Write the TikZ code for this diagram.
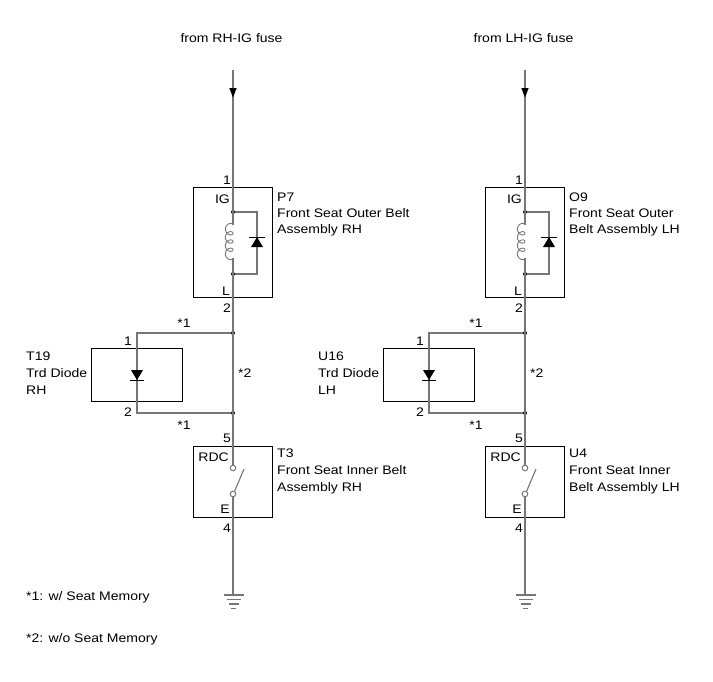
\documentclass[tikz,border=0pt]{standalone}
\usepackage{fontspec}
\setmainfont{Liberation Sans}[FakeStretch=1.13]
\definecolor{wirec}{RGB}{118,118,118}
\tikzset{
  wire/.style={draw=wirec, line width=1.1pt},
  boxc/.style={draw=black, line width=1.4pt, inner sep=0pt, anchor=north west},
  lbl/.style={inner sep=0pt, font=\fontsize{12.4}{14}\selectfont},
  pin/.style={lbl, anchor=base east},
  txt/.style={lbl, anchor=base west},
  jdot/.style={fill=black, circle, inner sep=0pt, minimum size=4pt},
  swc/.style={draw=wirec, circle, inner sep=0pt, minimum size=5.6pt, line width=1pt},
  tip/.style={fill=black},
}
\newcommand\seatcol[2]{%
\begin{scope}[xshift=#2pt]
  \coordinate (#1in) at (233,70);
  \coordinate (#1coilT) at (233,225);
  \coordinate (#1coilB) at (233,258);
  \coordinate (#1gnd) at (233,595);
  \node[jdot] (#1rT) at (233,212) {};
  \node[jdot] (#1rB) at (233,274) {};
  \node[jdot] (#1jT) at (233,333) {};
  \node[jdot] (#1jB) at (233,413) {};
  \node[swc] (#1swT) at (233,468) {};
  \node[swc] (#1swB) at (233,494) {};
  \coordinate (#1bT) at (257,212);
  \coordinate (#1bB) at (257,274);
  \coordinate (#1dT) at (137,333);
  \coordinate (#1dB) at (137,413);
  \coordinate (#1bl) at (244,469);
  % boxes
  \node[boxc, minimum width=79pt, minimum height=110pt] (#1relay) at (193,187) {};
  \node[boxc, minimum width=91pt, minimum height=53pt] (#1diode) at (91,348) {};
  \node[boxc, minimum width=79pt, minimum height=71pt] (#1sw) at (193,446) {};
  % main wire
  \draw[wire] (#1in) -- (#1coilT);
  \draw[wire, line width=0.9pt] plot[domain=0:25.1327, samples=240, variable=\t, smooth]
     ({233-3.8*(1-cos(\t r))}, {225+1.313*\t-3.4*sin(\t r)});
  \draw[wire] (#1coilB) -- (#1swT.north);
  \draw[wire] (#1swB.south) -- (#1gnd);
  \draw[wire] (#1swB.60) -- (#1bl);
  % arrow
  \fill[tip] (229.3,88) -- (236.7,88) -- (233,97.5) -- cycle;
  % relay diode branch
  \draw[wire] (#1rT) -- (#1bT) -- (#1bB) -- (#1rB);
  \fill[tip] (251,247) -- (263,247) -- (257,237) -- cycle;
  \draw[black, line width=0.9pt] (249,237) -- (265,237);
  % trd diode branch
  \draw[wire] (#1jT) -- (#1dT) -- (#1dB) -- (#1jB);
  \fill[tip] (131,370) -- (143,370) -- (137,380) -- cycle;
  \draw[black, line width=0.9pt] (130,380) -- (144,380);
  % ground
  \draw[wire] (223.5,595) -- (243.5,595);
  \draw[wire] (226.5,599.5) -- (240.5,599.5);
  \draw[wire] (228.5,604) -- (238.5,604);
  \draw[wire] (231,608.5) -- (236,608.5);
  % pin labels
  \node[pin] at (231,184) {1};
  \node[pin] at (230,203) {IG};
  \node[pin] at (230,295) {L};
  \node[pin] at (231,312) {2};
  \node[pin] at (132,345) {1};
  \node[pin] at (132,416) {2};
  \node[lbl, anchor=base] at (184,327) {*1};
  \node[lbl, anchor=base] at (184,429) {*1};
  \node[txt] at (238,377) {*2};
  \node[pin] at (231,442) {5};
  \node[pin] at (229,461) {RDC};
  \node[pin] at (230,513) {E};
  \node[pin] at (231,532) {4};
\end{scope}}
\begin{document}
\begin{tikzpicture}[x=1pt,y=-1pt]
  \useasboundingbox (0,0) rectangle (713,681);
  \seatcol{L}{0}
  \seatcol{R}{292}
  % titles
  \node[lbl, anchor=base] (tL) at (231.5,42) {from RH-IG fuse};
  \node[lbl, anchor=base] (tR) at (523.5,42) {from LH-IG fuse};
  % left texts
  \node[txt] (p7a) at (277,201) {P7};
  \node[txt] (p7b) at (277,217) {Front Seat Outer Belt};
  \node[txt] (p7c) at (277,233) {Assembly RH};
  \node[txt] (t19a) at (26,360) {T19};
  \node[txt] (t19b) at (26,377) {Trd Diode};
  \node[txt] (t19c) at (26,394) {RH};
  \node[txt] (t3a) at (277,457) {T3};
  \node[txt] (t3b) at (277,474) {Front Seat Inner Belt};
  \node[txt] (t3c) at (277,491) {Assembly RH};
  % right texts
  \node[txt] (o9a) at (569,201) {O9};
  \node[txt] (o9b) at (569,217) {Front Seat Outer};
  \node[txt] (o9c) at (569,233) {Belt Assembly LH};
  \node[txt] (u16a) at (318,360) {U16};
  \node[txt] (u16b) at (318,377) {Trd Diode};
  \node[txt] (u16c) at (318,394) {LH};
  \node[txt] (u4a) at (569,457) {U4};
  \node[txt] (u4b) at (569,474) {Front Seat Inner};
  \node[txt] (u4c) at (569,491) {Belt Assembly LH};
  % footnotes
  \node[txt] (fn1) at (26,600) {*1: w/ Seat Memory};
  \node[txt] (fn2) at (26,642) {*2: w/o Seat Memory};
\end{tikzpicture}
\end{document}
